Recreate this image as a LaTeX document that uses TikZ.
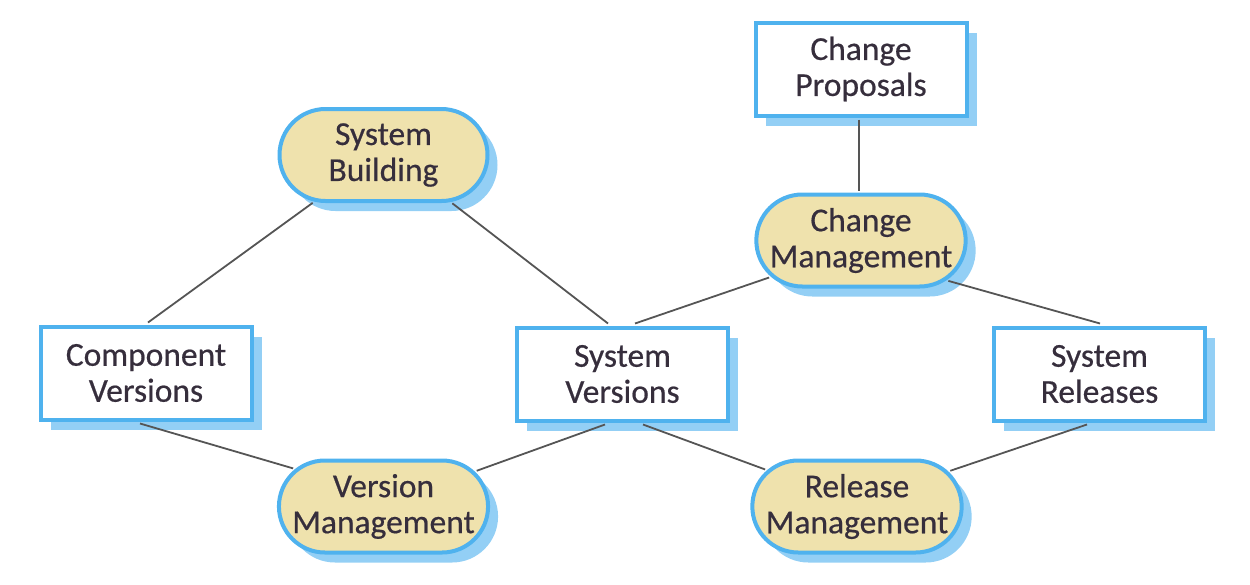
\documentclass[tikz,border=0pt]{standalone}
\usepackage{fontspec}
\setmainfont{Carlito}[UprightFeatures={FakeBold=0.5}]
\usetikzlibrary{shapes.misc,shadows,calc}
\definecolor{bordc}{HTML}{4FB2EE}
\definecolor{shadc}{HTML}{93CFF5}
\definecolor{fillc}{HTML}{EFE2AD}
\definecolor{textc}{HTML}{362E3C}
\definecolor{linec}{HTML}{555555}
\begin{document}
\begin{tikzpicture}[x=1pt,y=-1pt,
  base/.style={draw=bordc, line width=4pt, inner sep=0pt, align=center,
    text=textc, font=\fontsize{33.5}{36}\selectfont,
    drop shadow={shadow xshift=10pt, shadow yshift=-10pt, fill=shadc, opacity=1}},
  boxnode/.style={base, rectangle, fill=white, minimum width=211pt, minimum height=93pt},
  actnode/.style={base, rounded rectangle, fill=fillc, minimum width=208pt, minimum height=92pt},
  conn/.style={draw=linec, line width=1.8pt, shorten >=2pt}]
\useasboundingbox (0,0) rectangle (1250,584);
\node[boxnode] (CP) at (861,69) {Change\\Proposals};
\node[boxnode] (CV) at (146,373) {Component\\Versions};
\node[boxnode] (SV) at (622.5,374) {System\\Versions};
\node[boxnode] (SR) at (1099.5,374) {System\\Releases};
\node[actnode] (SB) at (383.5,155) {System\\Building};
\node[actnode] (CM) at (861,240.5) {Change\\Management};
\node[actnode] (VM) at (383.5,506.5) {Version\\Management};
\node[actnode] (RM) at (857,506.5) {Release\\Management};
\draw[conn] ($(CV.north)+(2,-2)$) -- (SB.214.25);
\draw[conn] ($(SV.north)+(-14.5,-2)$) -- (SB.325);
\draw[conn] ($(SV.north)+(12.5,-2)$) -- (CM.202);
\draw[conn] ($(SR.north)+(0.5,-2)$) -- (CM.335.2);
\draw[conn] ($(CV.south)+(-6,2)$) -- (VM.157.2);
\draw[conn] ($(SV.south)+(-17.5,2)$) -- (VM.21.1);
\draw[conn] ($(SV.south)+(20.5,2)$) -- (RM.158.4);
\draw[conn] ($(SR.south)+(-12.5,2)$) -- (RM.21.4);
\draw[conn] ($(CP.south)+(-2,2)$) -- ($(CM.north)+(-2,0)$);
\end{tikzpicture}
\end{document}
